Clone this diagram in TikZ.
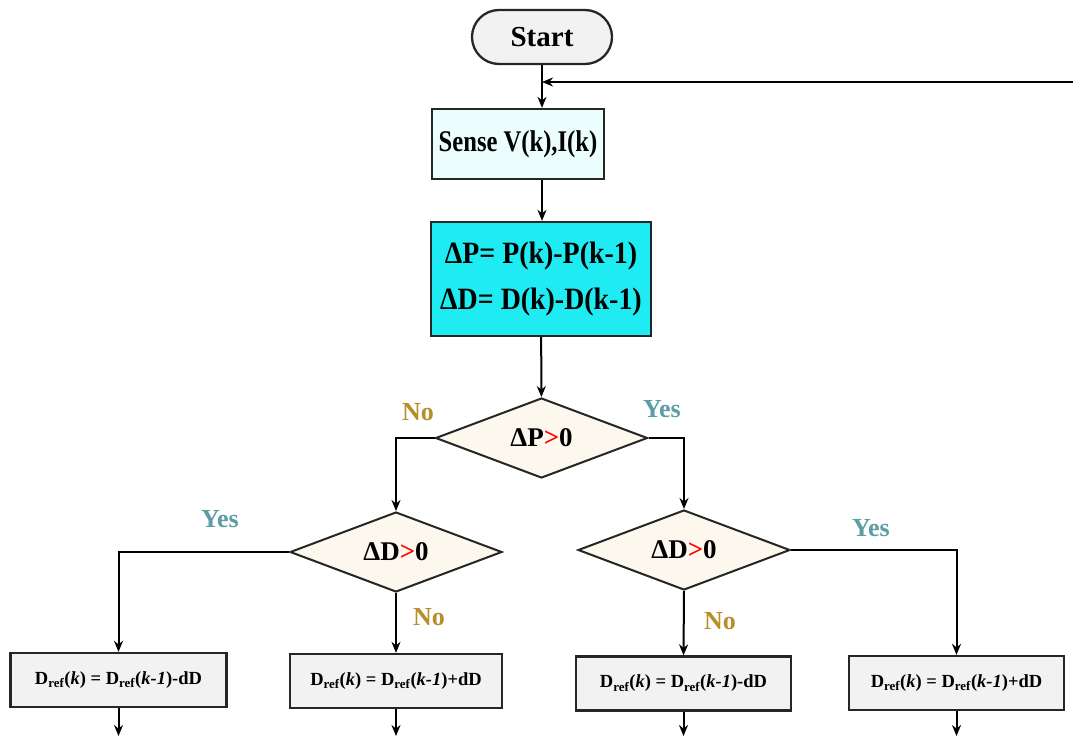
\documentclass[tikz,border=0pt]{standalone}
\usepackage{fontspec}
\setmainfont{Liberation Serif}
\newfontfamily\narrowserif[FakeStretch=0.82]{Liberation Serif}
\newfontfamily\calcserif[FakeStretch=0.9]{Liberation Serif}
\usetikzlibrary{shapes.geometric,arrows.meta}
\definecolor{boxgray}{RGB}{242,242,242}
\definecolor{senseblue}{RGB}{236,253,254}
\definecolor{calccyan}{RGB}{30,236,242}
\definecolor{decfill}{RGB}{252,248,237}
\definecolor{nocol}{RGB}{184,142,40}
\definecolor{yescol}{RGB}{92,158,164}
\tikzset{
  x=1pt, y=-1pt,
  every node/.style={font=\bfseries},
  frame/.style={draw=black!85, line width=2.3pt},
  terminal/.style={frame, rounded corners=27pt, fill=boxgray,
    minimum width=140pt, minimum height=54pt, font=\fontsize{29}{32}\selectfont\bfseries},
  procbox/.style={frame, fill=boxgray, minimum width=216pt, minimum height=54pt,
    inner sep=0pt, font=\fontsize{18.5}{20}\selectfont\bfseries},
  decision/.style={diamond, draw=black!85, line width=2pt, fill=decfill,
    aspect=2.65, inner sep=0pt, minimum width=212pt, minimum height=80pt,
    font=\fontsize{27}{30}\selectfont\bfseries},
  arr/.style={line width=2pt, -{Stealth[length=11pt,width=9pt]}},
  nolbl/.style={text=nocol, font=\fontsize{26}{28}\selectfont\bfseries},
  yeslbl/.style={text=yescol, font=\fontsize{26}{28}\selectfont\bfseries},
}
\newcommand{\Dref}{D\textsubscript{ref}}
\begin{document}
\begin{tikzpicture}
\useasboundingbox (0,0) rectangle (1073,736);

% process chain
\node[terminal] (start) at (542,37) {Start};
\node[frame, fill=senseblue, minimum width=172pt, minimum height=70pt,
      font=\fontsize{30}{32}\narrowserif\bfseries] (sense) at (518,144) {Sense V(k),I(k)};
\node[frame, fill=calccyan, minimum width=220pt, minimum height=114pt, align=center,
      font=\fontsize{31}{46}\calcserif\bfseries] (calc) at (541,279)
      {ΔP= P(k)-P(k-1)\\ ΔD= D(k)-D(k-1)};

% decisions
\node[decision] (dp) at (541.5,438) {ΔP\textcolor{red}{>}0};
\node[decision] (dl) at (396,552) {ΔD\textcolor{red}{>}0};
\node[decision] (dr) at (684,550) {ΔD\textcolor{red}{>}0};

% duty-cycle updates
\node[procbox] (b1) at (118.5,680) {\Dref(\textit{k}) = \Dref(\textit{k-1})-dD};
\node[procbox, minimum width=212pt] (b2) at (396,681) {\Dref(\textit{k}) = \Dref(\textit{k-1})+dD};
\node[procbox, minimum width=215pt] (b3) at (683.5,683.5) {\Dref(\textit{k}) = \Dref(\textit{k-1})-dD};
\node[procbox, minimum width=215pt] (b4) at (956.5,683) {\Dref(\textit{k}) = \Dref(\textit{k-1})+dD};

% branch labels
\node[nolbl] at (418,412) {No};
\node[yeslbl] at (662,409) {Yes};
\node[yeslbl] at (220,519) {Yes};
\node[nolbl] at (429,617) {No};
\node[nolbl] at (720,621) {No};
\node[yeslbl] at (871,528) {Yes};

% connectors
\coordinate (loop) at (1073,82);
\draw[arr] (start.south) -- (start.south |- sense.north);
\draw[arr] (loop) -- (start.south |- loop);
\draw[arr] (start.south |- sense.south) -- (start.south |- calc.north);
\draw[arr] (calc) -- (dp);
\draw[arr] (dp.west) -| (dl.north);
\draw[arr] (dp.east) -| (dr.north);
\draw[arr] (dl.west) -| (b1.north);
\draw[arr] (dl.south) -- (b2.north);
\draw[arr] (dr.south) -- (b3.north);
\draw[arr] (dr.east) -| (b4.north);

% outputs continuing below
\coordinate (o1) at (118.5,736);
\coordinate (o2) at (396,736);
\coordinate (o3) at (683.5,736);
\coordinate (o4) at (956.5,736);
\draw[arr] (b1.south) -- (o1);
\draw[arr] (b2.south) -- (o2);
\draw[arr] (b3.south) -- (o3);
\draw[arr] (b4.south) -- (o4);
\end{tikzpicture}
\end{document}
